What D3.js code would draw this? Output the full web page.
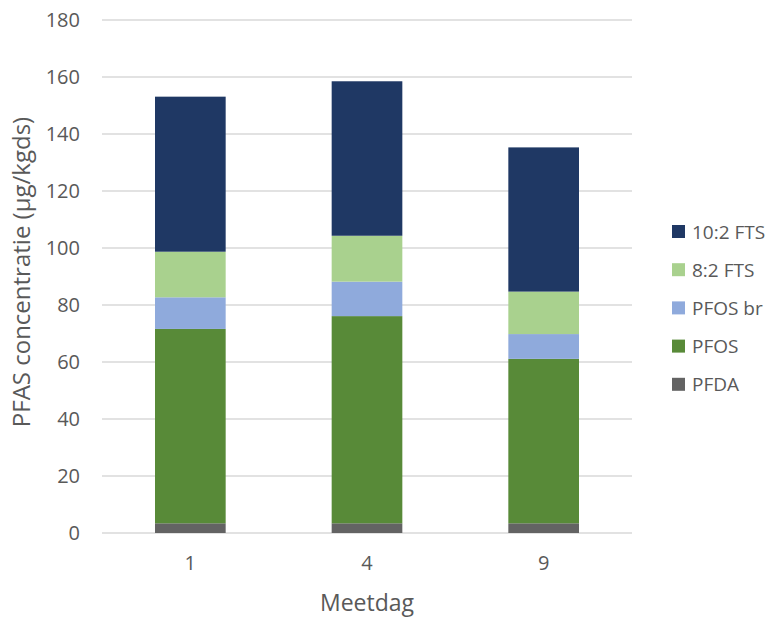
<!DOCTYPE html>
<html>
<head>
<meta charset="utf-8">
<script src="https://cdn.jsdelivr.net/npm/d3@7"></script>
<style>
  html, body { margin: 0; padding: 0; background: #fff; }
  text { font-family: "Open Sans", "Liberation Sans", sans-serif; fill: #595959; }
</style>
</head>
<body>
<svg id="chart" width="776" height="619"></svg>
<script>
// Measurement days (x categories)
const days = ["1", "4", "9"];
// Stacked components, bottom to top
const seriesNames = ["PFDA", "PFOS", "PFOS br", "8:2 FTS", "10:2 FTS"];
const seriesColors = ["#636363", "#588a38", "#8faadc", "#a9d18e", "#1f3864"];
// Concentrations per component (µg/kgds), one value per day
const pfda    = [3.4, 3.4, 3.4];
const pfos    = [68.2, 72.7, 57.7];
const pfosBr  = [11.1, 12.1, 8.7];
const fts82   = [16.0, 16.1, 14.9];
const fts102  = [54.4, 54.2, 50.6];
const yTicks  = [0, 20, 40, 60, 80, 100, 120, 140, 160, 180];

const table = days.map((d, i) => ({
  day: d,
  "PFDA": pfda[i], "PFOS": pfos[i], "PFOS br": pfosBr[i],
  "8:2 FTS": fts82[i], "10:2 FTS": fts102[i]
}));

const svg = d3.select("#chart");
const plot = { left: 102, right: 632, top: 20, bottom: 533 };

const x = d3.scaleBand().domain(days).range([plot.left, plot.right]).paddingInner(0.6).paddingOuter(0.3);
const y = d3.scaleLinear().domain([0, 180]).range([plot.bottom, plot.top]);

// Horizontal gridlines
svg.append("g").selectAll("line").data(yTicks).join("line")
  .attr("x1", plot.left).attr("x2", plot.right)
  .attr("y1", d => y(d)).attr("y2", d => y(d))
  .attr("stroke", "#d9d9d9").attr("stroke-width", 1.5);

// Y tick labels
const yAxis = svg.append("g").attr("transform", `translate(${plot.left - 22},0)`)
  .call(d3.axisLeft(y).tickValues(yTicks).tickSize(0).tickPadding(0));
yAxis.select(".domain").remove();
yAxis.selectAll("text").style("font-size", "20px").attr("fill", "#595959")
  .style("font-family", "'Open Sans', sans-serif");

// Stacked bars
const stack = d3.stack().keys(seriesNames)(table);
const color = d3.scaleOrdinal().domain(seriesNames).range(seriesColors);

svg.append("g").selectAll("g").data(stack).join("g")
  .attr("fill", d => color(d.key))
  .selectAll("rect").data(d => d).join("rect")
  .attr("x", d => x(d.data.day))
  .attr("width", x.bandwidth())
  .attr("y", d => y(d[1]))
  .attr("height", d => y(d[0]) - y(d[1]));

// X tick labels
const xAxis = svg.append("g").attr("transform", `translate(0,${plot.bottom + 23})`)
  .call(d3.axisBottom(x).tickSize(0).tickPadding(0));
xAxis.select(".domain").remove();
xAxis.selectAll("text").style("font-size", "20px").attr("fill", "#595959")
  .style("font-family", "'Open Sans', sans-serif");

// Axis titles
svg.append("text")
  .attr("x", (plot.left + plot.right) / 2).attr("y", 611)
  .attr("text-anchor", "middle").style("font-size", "23px")
  .text("Meetdag");

svg.append("text")
  .attr("transform", `translate(30,272) rotate(-90)`)
  .attr("text-anchor", "middle").style("font-size", "24px")
  .text("PFAS concentratie (µg/kgds)");

// Legend, top entry first
const legendItems = seriesNames.slice().reverse();
const legend = svg.append("g").selectAll("g").data(legendItems).join("g")
  .attr("transform", (d, i) => `translate(672,${232 + i * 38.2})`);
legend.append("rect").attr("x", 0).attr("y", -7).attr("width", 13).attr("height", 13)
  .attr("fill", d => color(d));
legend.append("text").attr("x", 20).attr("y", 0).attr("dy", "0.35em")
  .style("font-size", "19px").text(d => d);
</script>
</body>
</html>
